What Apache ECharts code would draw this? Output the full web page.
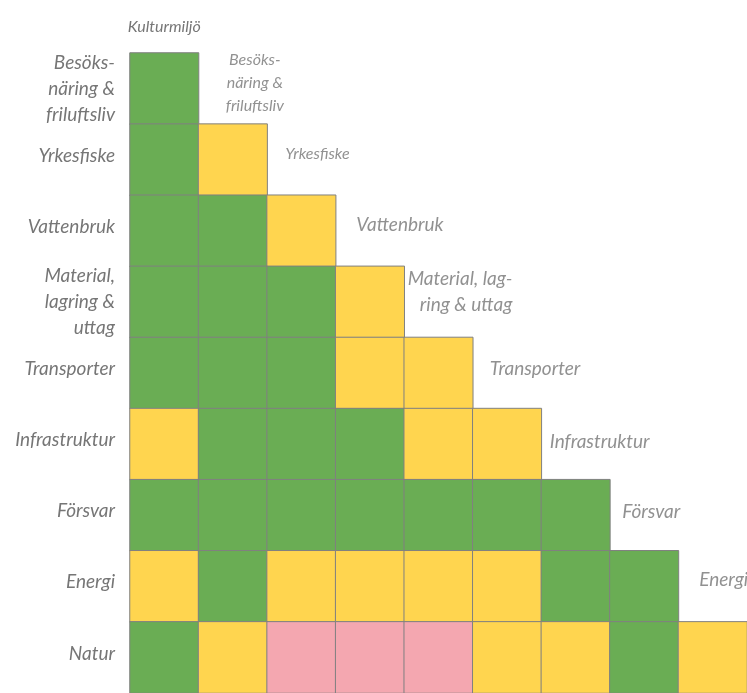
<!DOCTYPE html>
<html>
<head>
<meta charset="utf-8">
<script src="https://cdn.jsdelivr.net/npm/echarts@6/dist/echarts.min.js"></script>
<style>
  html, body { margin: 0; padding: 0; background: #fff; }
  #chart { width: 747px; height: 693px; }
</style>
</head>
<body>
<div id="chart"></div>
<script>
// kolumner (x) och rader (y)
var cols = ['Kulturmiljö', 'Besöks-\nnäring &\nfriluftsliv', 'Yrkesfiske', 'Vattenbruk',
  'Material, lag-\nring & uttag', 'Transporter', 'Infrastruktur', 'Försvar', 'Energi']
var rows = ['Besöks-\nnäring &\nfriluftsliv', 'Yrkesfiske', 'Vattenbruk', 'Material,\nlagring &\nuttag',
  'Transporter', 'Infrastruktur', 'Försvar', 'Energi', 'Natur']

// 0 = grön, 1 = gul, 2 = rosa  (en rad per rad i matrisen)
var matrix = [
  [0],
  [0, 1],
  [0, 0, 1],
  [0, 0, 0, 1],
  [0, 0, 0, 1, 1],
  [1, 0, 0, 0, 1, 1],
  [0, 0, 0, 0, 0, 0, 0],
  [1, 0, 1, 1, 1, 1, 0, 0],
  [0, 1, 2, 2, 2, 1, 1, 0, 1]
]

var colors = ['#6aad54', '#ffd54f', '#f4a7b0']
var textColor = '#767676'
var fontFamily = 'Lato, "Open Sans", sans-serif'

// placering av kolumnetiketterna bredvid diagonalen
var colLabelOffset = [null, [22, -6], [16, -6], [30, -6], [74, -10], [28, -4], [24, -2], [7, -3], [11, -6]]
var colLabelAlign = [null, 'center', 'center', 'center', 'right', 'center', 'center', 'center', 'center']
var colLabelSize = [16, 16, 16, 19, 19, 19, 19, 19, 19]

var heatData = []
for (var r = 0; r < matrix.length; r++) {
  for (var c = 0; c < matrix[r].length; c++) {
    heatData.push({
      value: [c, r, matrix[r][c]],
      itemStyle: { color: colors[matrix[r][c]] }
    })
  }
}

var labelData = []
for (var j = 1; j < cols.length; j++) {
  labelData.push({
    value: [j, j - 1],
    label: {
      formatter: cols[j],
      offset: colLabelOffset[j],
      align: colLabelAlign[j],
      fontSize: colLabelSize[j],
      lineHeight: colLabelSize[j] < 18 ? 23 : 26
    }
  })
}

var myChart = echarts.init(document.getElementById('chart'))
myChart.setOption({
  animation: false,
  grid: { left: 130, top: 53, width: 618, height: 645 },
  xAxis: {
    type: 'category',
    data: cols,
    position: 'top',
    axisLine: { show: false },
    axisTick: { show: false },
    splitLine: { show: false },
    axisLabel: {
      interval: 0,
      margin: 18,
      color: textColor,
      fontFamily: fontFamily,
      fontStyle: 'italic',
      fontSize: 16,
      formatter: function (v, i) { return i === 0 ? v : '' }
    }
  },
  yAxis: {
    type: 'category',
    data: rows,
    inverse: true,
    axisLine: { show: false },
    axisTick: { show: false },
    splitLine: { show: false },
    axisLabel: {
      interval: 0,
      margin: 15,
      color: textColor,
      fontFamily: fontFamily,
      fontStyle: 'italic',
      fontSize: 19,
      lineHeight: 26,
      align: 'right',
      // enradiga etiketter sitter lite högre i originalet
      formatter: function (v) { return v.indexOf('\n') < 0 ? '{one|' + v + '}' : v },
      rich: {
        one: {
          color: textColor,
          fontFamily: fontFamily,
          fontStyle: 'italic',
          fontSize: 19,
          lineHeight: 26,
          padding: [0, 0, 8, 0]
        }
      }
    }
  },
  series: [
    {
      type: 'heatmap',
      data: heatData,
      itemStyle: { borderColor: '#808080', borderWidth: 1 }
    },
    {
      type: 'scatter',
      data: labelData,
      symbolSize: 0,
      silent: true,
      clip: false,
      label: {
        show: true,
        position: 'inside',
        color: textColor,
        fontFamily: fontFamily,
        fontStyle: 'italic'
      }
    }
  ]
})
window.onresize = myChart.resize
</script>
</body>
</html>
